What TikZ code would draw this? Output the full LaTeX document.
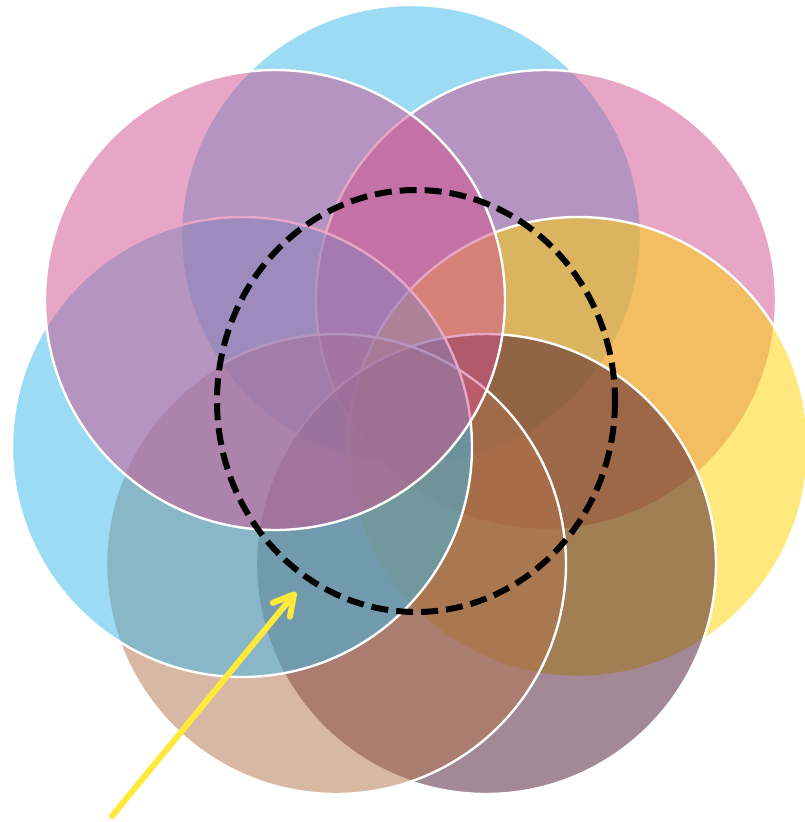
\documentclass[tikz,border=0pt]{standalone}
\usetikzlibrary{arrows.meta}
\definecolor{cblue}{RGB}{57,185,233}
\definecolor{cpink}{RGB}{209,79,143}
\definecolor{cyellow}{RGB}{255,212,0}
\definecolor{ctan}{RGB}{179,115,77}
\definecolor{cmauve}{RGB}{71,21,45}
\definecolor{carrow}{RGB}{255,233,59}
\tikzset{
  petal/.style={fill=#1, fill opacity=0.5, draw=white, draw opacity=1, line width=2.4pt},
  dashring/.style={draw=black, line width=6pt, dash pattern=on 17pt off 8pt},
  pointer/.style={draw=carrow, line width=6pt, line cap=round,
    -{Straight Barb[length=20pt, width=22pt, line cap=round, round]}}
}
\begin{document}
\begin{tikzpicture}[x=1pt,y=-1pt]
\useasboundingbox (0,0) rectangle (805,822);
\fill[white] (0,0) rectangle (805,822);
\path[petal=cblue]   (411,235) circle[radius=230];
\path[petal=cpink]   (546,300) circle[radius=230];
\path[petal=cyellow] (578,447) circle[radius=230];
\path[petal=cmauve]  (486,564) circle[radius=230];
\path[petal=ctan]    (336,564) circle[radius=230];
\path[petal=cblue]   (242,447) circle[radius=230];
\path[petal=cpink]   (275,300) circle[radius=230];
\path[dashring] (416,401) ellipse[x radius=199, y radius=211];
\coordinate (tail) at (112,816);
\coordinate (tip) at (296,592);
\draw[pointer] (tail) -- (tip);
\end{tikzpicture}
\end{document}
